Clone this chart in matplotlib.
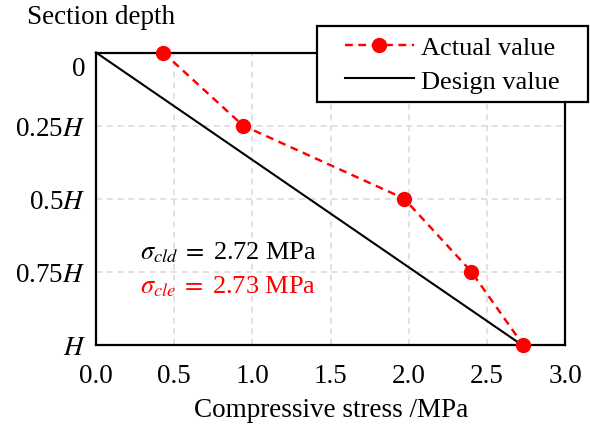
import matplotlib
matplotlib.use("Agg")
import matplotlib.pyplot as plt
from matplotlib.patches import Rectangle
from matplotlib.transforms import ScaledTranslation

# Data
depth_labels = ["0", "0.25$H$", "0.5$H$", "0.75$H$", "$H$"]
depth = [0.0, 0.25, 0.5, 0.75, 1.0]
actual_stress = [0.43, 0.94, 1.97, 2.40, 2.73]
design_depth = [0.0, 1.0]
design_stress = [0.0, 2.72]
x_ticks = [0.0, 0.5, 1.0, 1.5, 2.0, 2.5, 3.0]

plt.rcParams["font.family"] = ["Liberation Serif", "DejaVu Serif"]
plt.rcParams["mathtext.fontset"] = "stix"
plt.rcParams["font.size"] = 19.5

W, H = 590, 427
fig = plt.figure(figsize=(W / 100, H / 100), dpi=100)
ax = fig.add_axes([96 / W, 1 - 345.5 / H, (565 - 96) / W, (345.5 - 53.5) / H])

ax.plot(actual_stress, depth, color="red", linestyle=(0, (3.2, 2.3)), linewidth=1.75,
        marker="o", markersize=10, clip_on=False, zorder=5, label="Actual value")
ax.plot(design_stress, design_depth, color="black", linewidth=1.5, clip_on=False,
        zorder=4, label="Design value")

ax.set_xlim(0, 3.0)
ax.set_ylim(1.0, 0.0)
ax.set_xticks(x_ticks)
ax.set_xticklabels([f"{v:.1f}" for v in x_ticks])
ax.set_yticks(depth)
ax.set_yticklabels(depth_labels)
ax.tick_params(axis="x", length=0, pad=13, labelsize=19.5)
ax.tick_params(axis="y", length=0, pad=7.5, labelsize=19.5)
lab0 = ax.get_yticklabels()[0]
lab0.set_va("top")
lab0.set_transform(lab0.get_transform() + ScaledTranslation(0, -0.04, fig.dpi_scale_trans))

ax.grid(True, color="#d9d9d9", linestyle=(0, (4, 3)), linewidth=1.1)
ax.set_axisbelow(True)
for s in ax.spines.values():
    s.set_linewidth(1.6)
    s.set_color("black")

ax.text(0.28, 0.683, r"$\sigma_{cld}\;=\;$2.72 MPa", color="black", fontsize=19,
        va="center")
ax.text(0.28, 0.80, r"$\sigma_{cle}\;=\;$2.73 MPa", color="red", fontsize=19,
        va="center")

fig.text(27 / W, 1 - 18 / H, "Section depth", fontsize=19.5, va="center", ha="left")
fig.text(331 / W, 1 - 411 / H, "Compressive stress /MPa", fontsize=19.5, va="center", ha="center")

# legend frame
fig.patches.append(Rectangle((316.7 / W, 1 - 103 / H), (588 - 316.7) / W, (103 - 27) / H,
                             transform=fig.transFigure, facecolor="white",
                             edgecolor="black", linewidth=1.6, zorder=4))
leg = fig.legend(loc="center", bbox_to_anchor=(452.5 / W, 1 - 65 / H),
                 frameon=False, fontsize=19, borderpad=0, handlelength=2.6,
                 handletextpad=0.3, labelspacing=0.39)
leg.set_zorder(6)

fig.savefig("out.png", dpi=100)
